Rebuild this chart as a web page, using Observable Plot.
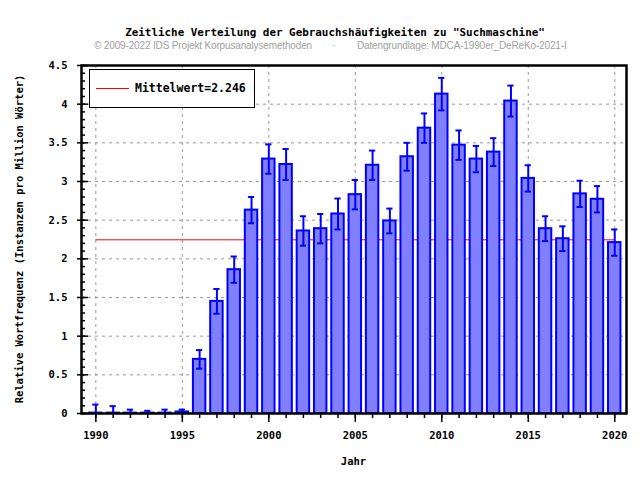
<!DOCTYPE html>
<html><head><meta charset="utf-8">
<script src="https://cdn.jsdelivr.net/npm/d3@7"></script>
<script src="https://cdn.jsdelivr.net/npm/@observablehq/plot@0.6"></script>
<style>
body{margin:0;background:#fff;}
#wrap{position:relative;width:640px;height:480px;overflow:hidden;}
.t{position:absolute;white-space:nowrap;line-height:1;}
.mono{font-family:"DejaVu Sans Mono",monospace;font-weight:bold;color:#000;}
.sub{font-family:"Liberation Sans",Arial,sans-serif;color:#a0a0a0;font-size:10px;letter-spacing:-0.15px;}
</style></head><body><div id="wrap"></div>
<script>
const years = [1990,1991,1992,1993,1994,1995,1996,1997,1998,1999,2000,2001,2002,2003,2004,2005,2006,2007,2008,2009,2010,2011,2012,2013,2014,2015,2016,2017,2018,2019,2020];
const values = [0.005,0.005,0.005,0.005,0.005,0.02,0.70,1.45,1.86,2.63,3.29,3.22,2.36,2.39,2.58,2.83,3.21,2.49,3.32,3.69,4.13,3.47,3.29,3.38,4.04,3.04,2.39,2.26,2.84,2.77,2.21];
const errors = [0.11,0.09,0.045,0.03,0.045,0.03,0.12,0.16,0.17,0.17,0.19,0.20,0.19,0.19,0.20,0.19,0.19,0.16,0.18,0.19,0.21,0.19,0.17,0.18,0.20,0.17,0.16,0.16,0.17,0.17,0.17];
const meanValue = 2.246;
const yMajor = [0,0.5,1,1.5,2,2.5,3,3.5,4,4.5];
const yMinor = d3.range(0, 46).map(i => i / 10);
const xMajor = [1990,1995,2000,2005,2010,2015,2020];
const title = "Zeitliche Verteilung der Gebrauchshäufigkeiten zu \"Suchmaschine\"";
const credit1 = "© 2009-2022 IDS Projekt Korpusanalysemethoden";
const credit2 = "Datengrundlage: MDCA-1990er_DeReKo-2021-I";
const xLabel = "Jahr";
const yLabel = "Relative Wortfrequenz (Instanzen pro Million Wörter)";
const legendLabel = "Mittelwert=2.246";

const data = years.map((year, i) => ({year, value: values[i], lo: Math.max(0, values[i] - errors[i]), hi: values[i] + errors[i]}));

const W = 640, H = 480, ML = 81, MR = 14, MT = 65, MB = 67;
const innerW = W - ML - MR;
const blue = "#0000ff";

const plot = Plot.plot({
  width: W, height: H,
  marginLeft: ML, marginRight: MR, marginTop: MT, marginBottom: MB,
  style: {fontFamily: "'DejaVu Sans Mono', monospace", fontSize: "10.5px", fontWeight: "bold", color: "#000", background: "#fff"},
  x: {domain: [1989.17, 2020.68]},
  y: {domain: [0, 4.5]},
  marks: [
    Plot.gridY(yMajor, {stroke: "#999", strokeOpacity: 1, strokeDasharray: "3,4"}),
    Plot.gridX(xMajor, {stroke: "#999", strokeOpacity: 1, strokeDasharray: "3,4"}),
    Plot.ruleY([meanValue], {x1: 1990, x2: 2020, stroke: "#ff0000", strokeWidth: 1}),
    Plot.rect(data, {x1: d => d.year - 0.36, x2: d => d.year + 0.36, y1: 0, y2: "value", fill: "#8080ff", stroke: blue, strokeWidth: 2}),
    Plot.ruleX(data, {x: "year", y1: "lo", y2: "hi", stroke: blue, strokeWidth: 2}),
    Plot.ruleY(data, {y: "hi", x1: d => d.year - 0.18, x2: d => d.year + 0.18, stroke: blue, strokeWidth: 2}),
    Plot.ruleY(data.filter(d => d.lo > 0), {y: "lo", x1: d => d.year - 0.18, x2: d => d.year + 0.18, stroke: blue, strokeWidth: 2}),
    Plot.tickY(yMinor, {y: d => d, insetRight: innerW - 4, stroke: "#000", strokeWidth: 1.5}),
    Plot.tickY(yMajor, {y: d => d, insetRight: innerW - 7, stroke: "#000", strokeWidth: 1.5}),
    Plot.axisY({ticks: yMajor, tickSize: 4, tickPadding: 10, tickFormat: d => String(d), label: null, strokeWidth: 1.5}),
    Plot.axisX({ticks: years, tickSize: 5, tickFormat: () => "", label: null, strokeWidth: 1.5}),
    Plot.axisX({ticks: xMajor, tickSize: 9, tickPadding: 9, tickFormat: d => String(d), label: null, strokeWidth: 1.5}),
    Plot.frame({stroke: "#000", strokeWidth: 2.5})
  ]
});

const wrap = document.getElementById("wrap");
wrap.appendChild(plot);

function addText(txt, cls, css) {
  const d = document.createElement("div");
  d.className = "t " + cls;
  d.textContent = txt;
  Object.assign(d.style, css);
  wrap.appendChild(d);
  return d;
}
addText(title, "mono", {left: "0", width: "670px", textAlign: "center", top: "28px", fontSize: "10.9px"});
addText(credit1, "sub", {left: "94px", top: "41px"});
addText("·", "sub", {left: "332px", top: "41px"});
addText(credit2, "sub", {left: "357px", top: "41px"});
addText(xLabel, "mono", {left: ML + "px", width: innerW + "px", textAlign: "center", top: "456px", fontSize: "10.5px"});
addText(yLabel, "mono", {left: "19px", top: "239px", fontSize: "10.5px", transform: "translate(-50%,-50%) rotate(-90deg)"});

// legend box
const lg = document.createElement("div");
Object.assign(lg.style, {position: "absolute", left: "89px", top: "69px", width: "164px", height: "37px", border: "1px solid #000", background: "#fff"});
const ln = document.createElement("div");
Object.assign(ln.style, {position: "absolute", left: "6px", top: "18px", width: "33px", height: "1px", background: "#ff0000"});
lg.appendChild(ln);
const lt = document.createElement("div");
lt.className = "t mono";
lt.textContent = legendLabel;
Object.assign(lt.style, {left: "45px", top: "13px", fontSize: "11.5px"});
lg.appendChild(lt);
wrap.appendChild(lg);
</script>
</body></html>
